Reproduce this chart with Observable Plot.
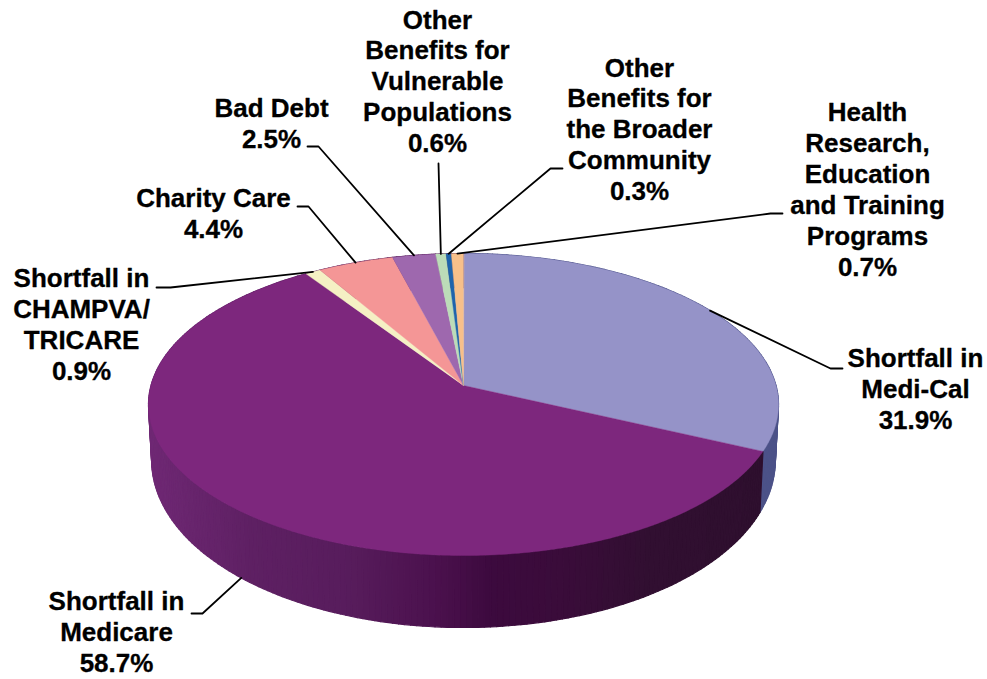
<!DOCTYPE html>
<html>
<head>
<meta charset="utf-8">
<script src="https://cdn.jsdelivr.net/npm/d3@7"></script>
<script src="https://cdn.jsdelivr.net/npm/@observablehq/plot@0.6"></script>
<style>html,body{margin:0;padding:0;background:#fff}svg{display:block}</style>
</head>
<body>
<div id="chart"></div>
<script>
// Data
const categories = ["Shortfall in Medi-Cal","Shortfall in Medicare","Shortfall in CHAMPVA/TRICARE","Charity Care","Bad Debt","Other Benefits for Vulnerable Populations","Other Benefits for the Broader Community","Health Research, Education and Training Programs"];
const shares = [31.9,58.7,0.9,4.4,2.5,0.6,0.3,0.7];
const labelTexts = ["Shortfall in\nMedi-Cal\n31.9%","Shortfall in\nMedicare\n58.7%","Shortfall in\nCHAMPVA/\nTRICARE\n0.9%","Charity Care\n4.4%","Bad Debt\n2.5%","Other\nBenefits for\nVulnerable\nPopulations\n0.6%","Other\nBenefits for\nthe Broader\nCommunity\n0.3%","Health\nResearch,\nEducation\nand Training\nPrograms\n0.7%"];
const faceColors = ["#9593c8","#7d277d","#f5f0c4","#f49696","#9e68ae","#bcdcb8","#1e64ac","#f7c08a"];

// Layout of the annotation: label centre, and leader elbow then end
const labelX = [915,116,81,213,271,437,639,867];
const labelY = [388,631,323,212,122,80,128,188];
const leaderBends = [
  [[830,368],[842,368]],
  [[202,613],[191,613]],
  [[170,287],[156,287]],
  [[308,206],[297,206]],
  [[318,146],[307,146]],
  [[438,163]],
  [[550,168],[562,168]],
  [[770,213],[782,213]]
];
const wallStops = [[148,"#6f2874"],[250,"#5e2063"],[350,"#571c5c"],[440,"#4a104c"],[490,"#3c0a3e"],[560,"#3a0c3a"],[650,"#310f31"],[760,"#2e0f2e"]];
const wallSliceOne = "#4c5288";

// Perspective disc
const cx = 463, cy = 385, R = 312.5, H = 148.6, k = 0.126;
const rim = a => {
  const u = Math.sin(a), v = -Math.cos(a), w = 1 - k * v;
  return {x: cx + R * u / w, y: cy + H * v / w, v};
};
const lower = a => {
  const p = rim(a);
  return {x: cx + (p.x - cx) * 0.99, y: p.y + 53 + 19 * p.v};
};
const cum = d3.cumsum(shares);
const total = cum[cum.length - 1];
const start = i => (i ? cum[i - 1] : 0) / total * 2 * Math.PI;
const end = i => cum[i] / total * 2 * Math.PI;
const mid = i => (start(i) + end(i)) / 2;

const wallColor = d3.scaleLinear().domain(wallStops.map(d => d[0])).range(wallStops.map(d => d[1])).clamp(true);
const step = Math.PI / 180;

// Wall strips
const wall = [];
shares.forEach((s, i) => {
  const n = Math.max(1, Math.ceil((end(i) - start(i)) / step));
  for (let j = 0; j < n; j++) {
    const a0 = start(i) + (end(i) - start(i)) * j / n;
    const a1 = start(i) + (end(i) - start(i)) * (j + 1) / n;
    const p0 = rim(a0), p1 = rim(a1), q1 = lower(a1), q0 = lower(a0);
    const c = i === 0 ? wallSliceOne : wallColor((p0.x + p1.x) / 2);
    const id = `w${i}-${j}`;
    for (const p of [p0, p1, q1, q0]) wall.push({id, x: p.x, y: p.y, c});
  }
});

// Top faces
const faces = [];
shares.forEach((s, i) => {
  const n = Math.max(2, Math.ceil((end(i) - start(i)) / (step / 2)));
  faces.push({id: i, x: cx, y: cy, c: faceColors[i]});
  for (let j = 0; j <= n; j++) {
    const p = rim(start(i) + (end(i) - start(i)) * j / n);
    faces.push({id: i, x: p.x, y: p.y, c: faceColors[i]});
  }
});

// Leaders
const leaders = [];
shares.forEach((s, i) => {
  const p = i === 1 ? lower(mid(i)) : rim(mid(i));
  leaders.push({id: i, x: p.x, y: p.y});
  leaderBends[i].forEach(b => leaders.push({id: i, x: b[0], y: b[1]}));
});

const labels = labelTexts.map((t, i) => ({t, x: labelX[i], y: labelY[i], name: categories[i]}));

const chart = Plot.plot({
  width: 987, height: 679,
  margin: 0,
  x: {domain: [0, 987], range: [0, 987], axis: null},
  y: {domain: [0, 679], range: [0, 679], axis: null},
  color: {type: "identity"},
  style: {background: "#fff"},
  marks: [
    Plot.line(wall, {x: "x", y: "y", z: "id", fill: "c", stroke: "c", strokeWidth: 1.2, curve: "linear-closed"}),
    Plot.line(faces, {x: "x", y: "y", z: "id", fill: "c", stroke: "c", strokeWidth: 0.4, curve: "linear-closed"}),
    Plot.line(leaders, {x: "x", y: "y", z: "id", stroke: "#000", strokeWidth: 1.8}),
    Plot.text(labels, {x: "x", y: "y", text: "t", fontSize: 26, fontWeight: "bold", fontFamily: "'Liberation Sans', Arial, sans-serif", lineHeight: 1.19, fill: "#000", stroke: "#000", strokeWidth: 0.3, lineAnchor: "middle", textAnchor: "middle"})
  ]
});
document.getElementById("chart").append(chart);
</script>
</body>
</html>
